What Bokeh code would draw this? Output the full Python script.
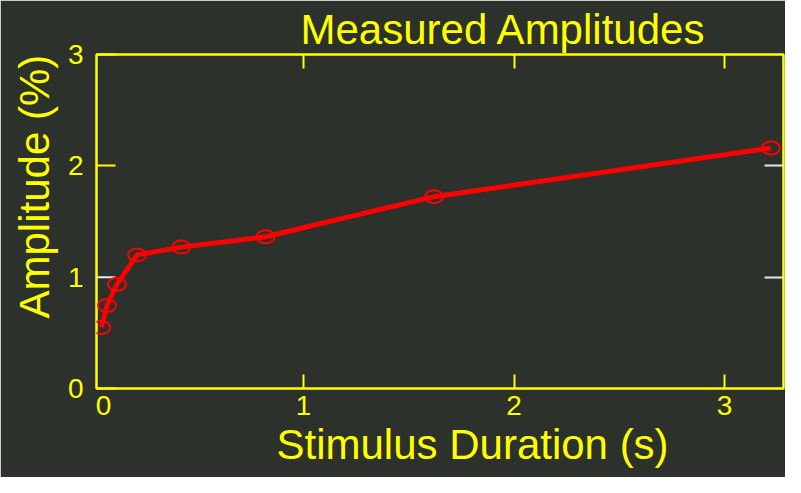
from bokeh.plotting import figure
from bokeh.models import (LinearAxis, FixedTicker, Range1d, Title, ColumnDataSource)
from bokeh.embed import file_html
from bokeh.resources import INLINE

# ---- data ----
durations = [0.04, 0.067, 0.114, 0.21, 0.42, 0.82, 1.62, 3.22]
amplitudes = [0.548, 0.745, 0.936, 1.20, 1.27, 1.363, 1.723, 2.16]
x_ticks = [1, 2, 3]
x_zero_label_pos = 0.05          # where the reference prints its small "0"
y_ticks = [0, 1, 2, 3]
y_white_ticks = [1]
right_ticks = [1, 2]

title_text = "Measured Amplitudes"
x_label = "Stimulus Duration (s)"
y_label = "Amplitude (%)"

BG = "#2c312c"
YEL = "#ffff00"
RED = "#ff0000"
WHITE = "#e8e8e8"
FONT = "Liberation Sans"

W, H = 785, 477
x_start, x_end = 0.017, 3.28
p = figure(width=W, height=H, output_backend="svg", toolbar_location=None,
           x_range=Range1d(x_start, x_end), y_range=Range1d(0, 3),
           x_axis_location=None, y_axis_location=None,
           min_border_left=96, min_border_right=2, min_border_top=54, min_border_bottom=89)
p.background_fill_color = BG
p.border_fill_color = BG
p.outline_line_color = YEL
p.outline_line_width = 2.5
p.xgrid.visible = False
p.ygrid.visible = False

def labelled_axis(label_ticks, mark_ticks, tick_in, standoff):
    # labels come from the major ticks, visible tick marks from the minor ticks
    ax = LinearAxis(ticker=FixedTicker(ticks=label_ticks, minor_ticks=mark_ticks))
    ax.axis_line_color = None
    ax.major_tick_line_color = None
    ax.major_tick_in = 0
    ax.major_tick_out = 0
    ax.minor_tick_line_color = YEL
    ax.minor_tick_line_width = 2
    ax.minor_tick_in = tick_in
    ax.minor_tick_out = 0
    ax.major_label_text_color = YEL
    ax.major_label_text_font = FONT
    ax.major_label_text_font_size = "28px"
    ax.major_label_standoff = standoff
    return ax

def tick_only_axis(ticks, color, tick_in):
    ax = LinearAxis(ticker=FixedTicker(ticks=[], minor_ticks=ticks))
    ax.axis_line_color = None
    ax.major_tick_line_color = None
    ax.major_tick_in = 0
    ax.major_tick_out = 0
    ax.minor_tick_line_color = color
    ax.minor_tick_line_width = 2
    ax.minor_tick_in = tick_in
    ax.minor_tick_out = 0
    ax.major_label_standoff = 0
    return ax

yax = labelled_axis(y_ticks, [t for t in y_ticks if t not in y_white_ticks], 19, 13)
p.add_layout(yax, "left")

xax = labelled_axis([x_zero_label_pos] + x_ticks, x_ticks, 14, 7)
xax.major_label_overrides = {x_zero_label_pos: "0"}
p.add_layout(xax, "below")

p.add_layout(tick_only_axis(x_ticks, YEL, 14), "above")
p.add_layout(tick_only_axis(right_ticks, WHITE, 19), "right")

# white tick on the left side at y=1 (as in the reference)
tick_len = 19 / 211.0
p.segment(x0=[x_start] * len(y_white_ticks), y0=y_white_ticks,
          x1=[x_start + tick_len] * len(y_white_ticks), y1=y_white_ticks,
          line_color=WHITE, line_width=2)

src = ColumnDataSource(dict(x=durations, y=amplitudes))
p.line("x", "y", source=src, line_color=RED, line_width=5)
p.ellipse("x", "y", source=src, width=18, height=13, width_units="screen", height_units="screen",
          fill_color=None, line_color=RED, line_width=2)

t = Title(text=title_text, align="left", offset=204, text_font=FONT, text_font_size="42px",
          text_font_style="normal", text_color=YEL, standoff=4)
p.add_layout(t, "above")

xl = Title(text=x_label, align="left", offset=180, text_font=FONT, text_font_size="42px",
           text_font_style="normal", text_color=YEL, standoff=3)
p.add_layout(xl, "below")

yl = Title(text=y_label, align="left", offset=70, text_font=FONT, text_font_size="42px",
           text_font_style="normal", text_color=YEL, standoff=14)
p.add_layout(yl, "left")

open("out.html", "w").write(file_html(p, INLINE))
